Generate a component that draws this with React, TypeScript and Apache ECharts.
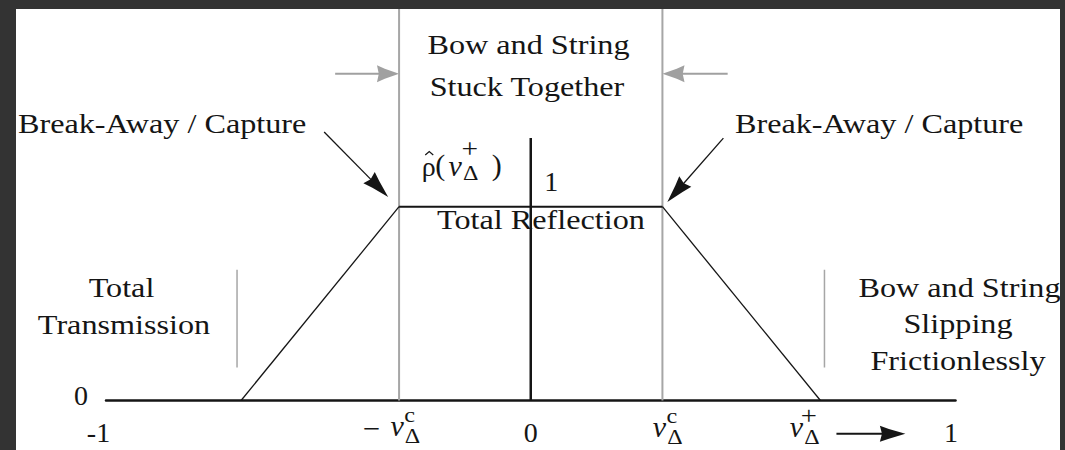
import React, { useEffect, useRef } from 'react';
import * as echarts from 'echarts';

// Normalised relative velocity (x) and reflection coefficient (y)
const xTicks = [-1, 0, 1];
const reflectionX = [-0.682, -0.31, 0.31, 0.682];
const reflectionY = [0, 1, 1, 0];
const stickBoundaries = [-0.31, 0.31]; // -v_Δ^c, v_Δ^c
const captureVelocity = 0.682; // v_Δ^+
const boundaryTop = 2.02;
const rhoAxisTop = 1.354;
const regionDividerX = [-0.6915, 0.6915];
const regionDividerY = [0.17, 0.675];
const stuckArrowY = 1.686;
const stuckArrowTailX = [-0.4605, 0.4636];
const breakAwayTail = [[-0.4864, 1.385], [0.4535, 1.354]];
const breakAwayTip = [[-0.3357, 1.05], [0.3216, 1.0242]];
const velocityArrowX = [0.7197, 0.882];
const velocityArrowY = -0.172;

const serif = '"Liberation Serif", "Times New Roman", serif';
const ink = '#151515';
const gray = '#a6a6a6';

type Pt = number[];

function arrow(p0: Pt, p1: Pt, color: string, width: number, len: number, w: number) {
  const ang = Math.atan2(p1[1] - p0[1], p1[0] - p0[0]);
  const c = Math.cos(ang);
  const s = Math.sin(ang);
  const pt = (a: number, b: number) => [p1[0] + a * c - b * s, p1[1] + a * s + b * c];
  const back = pt(-len * 0.75, 0);
  return [
    {
      type: 'line',
      silent: true,
      shape: { x1: p0[0], y1: p0[1], x2: back[0], y2: back[1] },
      style: { stroke: color, lineWidth: width },
    },
    {
      type: 'polygon',
      silent: true,
      shape: {
        points: [
          pt(0, 0),
          pt(-len * 0.55, -w * 0.3),
          pt(-len * 0.85, -w / 2),
          pt(-len * 0.78, 0),
          pt(-len * 0.85, w / 2),
          pt(-len * 0.55, w * 0.3),
        ],
      },
      style: { fill: color },
    },
  ];
}

function txt(text: string, x: number, y: number, opts: any = {}) {
  return {
    type: 'text',
    x,
    y,
    scaleX: opts.scaleX ?? 1.15,
    silent: true,
    style: {
      text,
      font: opts.font ?? `28px ${serif}`,
      fill: ink,
      textAlign: opts.align ?? 'center',
      textVerticalAlign: 'middle',
    },
  };
}

// italic v with a superscript and a Δ subscript
function vSymbol(cx: number, cy: number, sup: string) {
  return [
    txt('v', cx, cy, { font: `italic 30px ${serif}`, scaleX: 1 }),
    txt(sup, cx + 12.5, cy - 11, { font: `${sup === '+' ? 26 : 22}px ${serif}`, scaleX: 1.1 }),
    txt('Δ', cx + 15.5, cy + 11, { font: `20px ${serif}`, scaleX: 1.2 }),
  ];
}

function lineSeries(data: number[][], color: string, width: number) {
  return {
    type: 'line',
    data,
    symbol: 'none',
    silent: true,
    lineStyle: { color, width },
    z: color === gray ? 1 : 3,
  };
}

export default function App() {
  const ref = useRef<HTMLDivElement>(null);

  useEffect(() => {
    document.body.style.margin = '0';
    document.body.style.background = '#333';
    const chart = echarts.init(ref.current!, undefined, { renderer: 'svg' });

    const series: any[] = [
      ...stickBoundaries.map((x) => lineSeries([[x, 0], [x, boundaryTop]], gray, 2)),
      ...regionDividerX.map((x) => lineSeries([[x, regionDividerY[0]], [x, regionDividerY[1]]], gray, 1.5)),
      lineSeries([[0, 0], [0, rhoAxisTop]], ink, 2.5),
      lineSeries([[reflectionX[0], reflectionY[0]], [reflectionX[1], reflectionY[1]]], ink, 1.3),
      lineSeries([[reflectionX[1], reflectionY[1]], [reflectionX[2], reflectionY[2]]], ink, 2),
      lineSeries([[reflectionX[2], reflectionY[2]], [reflectionX[3], reflectionY[3]]], ink, 1.3),
    ];

    chart.setOption({
      animation: false,
      backgroundColor: '#fff',
      grid: { left: 90, right: 104.5, top: 0, bottom: 49.5 },
      xAxis: {
        type: 'value',
        min: xTicks[0],
        max: xTicks[xTicks.length - 1],
        interval: 1,
        axisLine: { show: true, onZero: false, lineStyle: { color: ink, width: 2.5 } },
        axisTick: { show: false },
        splitLine: { show: false },
        axisLabel: {
          show: true,
          showMinLabel: true,
          showMaxLabel: true,
          margin: 18,
          color: ink,
          fontFamily: serif,
          fontSize: 28,
          lineHeight: 28,
          formatter: (v: number) => (v === -1 ? '{m|-1}' : v === 1 ? '{p|1}' : '{z|0}'),
          rich: {
            m: { fontFamily: serif, fontSize: 28, color: ink, padding: [0, 15, 0, 0] },
            p: { fontFamily: serif, fontSize: 28, color: ink, padding: [0, 9, 0, 0] },
            z: { fontFamily: serif, fontSize: 28, color: ink },
          },
        },
      },
      yAxis: { type: 'value', min: 0, max: boundaryTop, show: false },
      series,
    });

    const px = (x: number, y: number) => chart.convertToPixel({ gridIndex: 0 }, [x, y]) as number[];
    const axisX = px(0, 0)[0];
    const baseY = px(0, 0)[1];
    const oneY = px(0, 1)[1];
    const leftX = px(-1, 0)[0];
    const rhoX = axisX - 102;

    const elements: any[] = [
      // stuck-region boundary arrows
      ...arrow(px(stuckArrowTailX[0], stuckArrowY), px(stickBoundaries[0], stuckArrowY), '#a0a0a0', 2, 26, 17),
      ...arrow(px(stuckArrowTailX[1], stuckArrowY), px(stickBoundaries[1], stuckArrowY), '#a0a0a0', 2, 26, 17),
      // break-away / capture arrows
      ...arrow(px(breakAwayTail[0][0], breakAwayTail[0][1]), px(breakAwayTip[0][0], breakAwayTip[0][1]), ink, 1.3, 32, 16),
      ...arrow(px(breakAwayTail[1][0], breakAwayTail[1][1]), px(breakAwayTip[1][0], breakAwayTip[1][1]), ink, 1.3, 32, 16),
      // direction arrow next to v_Δ^+
      ...arrow(px(velocityArrowX[0], velocityArrowY), px(velocityArrowX[1], velocityArrowY), ink, 2, 30, 16),

      // region descriptions
      txt('Bow and String', 512.5, 36),
      txt('Stuck Together', 511, 78),
      txt('Break-Away / Capture', 2, 115, { align: 'left' }),
      txt('Break-Away / Capture', 719, 114.5, { align: 'left' }),
      txt('Total Reflection', 525, 211),
      txt('Total', 105.5, 278.5),
      txt('Transmission', 108, 316),
      txt('Bow and String', 943.5, 278.5),
      txt('Slipping', 942, 315),
      txt('Frictionlessly', 942, 352),

      // y ticks
      txt('0', leftX - 25, baseY - 5.5, { scaleX: 1 }),
      txt('1', axisX + 20.5, oneY - 24.7, { scaleX: 1 }),

      // reflection coefficient symbol  ρ̂(v_Δ^+)
      txt('\u03C1', rhoX, 157, { scaleX: 1 }),
      {
        type: 'polyline',
        silent: true,
        shape: { points: [[rhoX - 3.5, 146], [rhoX + 0.5, 142.5], [rhoX + 4.5, 146]] },
        style: { stroke: ink, lineWidth: 1.2, fill: 'none' },
      },
      txt('(', axisX - 90.5, 155, { font: `30px ${serif}`, scaleX: 1 }),
      txt('v', axisX - 75.5, 156, { font: `italic 30px ${serif}`, scaleX: 1 }),
      txt('+', axisX - 61, 139, { font: `28px ${serif}`, scaleX: 1.05 }),
      txt('Δ', axisX - 60, 164, { font: `20px ${serif}`, scaleX: 1.2 }),
      txt(')', axisX - 34, 155, { font: `30px ${serif}`, scaleX: 1 }),
    ];

    // velocity tick labels under the axis
    const tL = px(stickBoundaries[0], 0)[0];
    const tR = px(stickBoundaries[1], 0)[0];
    const tP = px(captureVelocity, 0)[0];
    elements.push(txt('\u2212', tL - 27.5, 419, { scaleX: 1.1 }));
    elements.push(...vSymbol(tL - 2, 416, 'c'));
    elements.push(...vSymbol(tR - 3, 417, 'c'));
    elements.push(...vSymbol(tP - 24, 417, '+'));

    chart.setOption({ graphic: { elements } });

    return () => {
      chart.dispose();
    };
  }, []);

  return (
    <div style={{ position: 'relative', width: 1065, height: 450, background: '#333', overflow: 'hidden' }}>
      <div
        ref={ref}
        style={{ position: 'absolute', left: 16, top: 9, width: 1044, height: 441, background: '#fff' }}
      />
    </div>
  );
}
